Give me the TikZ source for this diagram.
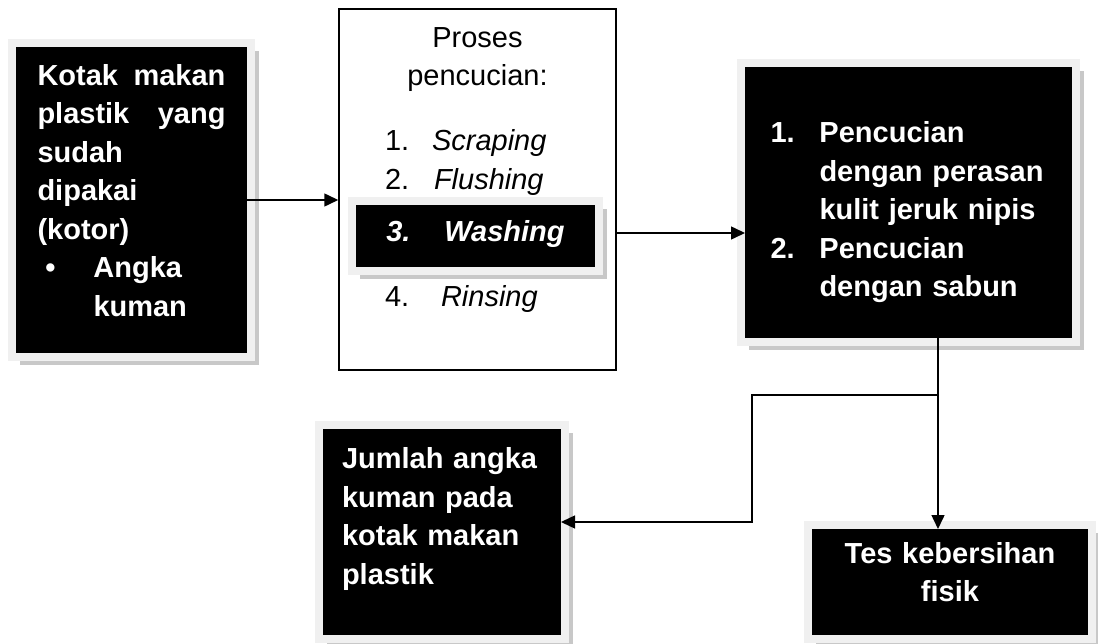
\documentclass[tikz,border=0pt]{standalone}
\usepackage{fontspec}
\setmainfont{Liberation Sans}
\usepackage{tikz}
\usetikzlibrary{calc,arrows.meta,positioning,shadows}
\usepackage{xcolor}
\definecolor{bingkai}{HTML}{F0F0F0}
\definecolor{bayangan}{HTML}{C8C8C8}
\newcommand{\butir}[3]{\makebox[185pt][l]{\makebox[#2][l]{#1}\textit{#3}}}
\tikzset{
    kotakhitam/.style={
        fill=black,
        draw=bingkai,
        line width=8pt,
        text=white,
        inner sep=0pt,
        outer sep=-4pt,
        font=\fontsize{29}{38.5}\selectfont\bfseries,
        drop shadow={shadow xshift=8pt,shadow yshift=-8pt,fill=bayangan,opacity=1}
    },
    kotakputih/.style={
        draw=black,
        line width=1.5pt,
        inner sep=0pt,
        font=\fontsize{29}{38.5}\selectfont
    },
    panah/.style={
        -{Triangle[length=14pt,width=13pt]},
        line width=1.5pt
    }
}

\begin{document}
\begin{tikzpicture}[x=1pt,y=-1pt]

    \useasboundingbox (0,0) rectangle (1098,644);

    % Kotak makan kotor
    \node[
        kotakhitam,
        minimum width=239pt,
        minimum height=314pt,
        text width=188pt,
        align=left
    ] (kotak)
        at (131.5,200)
        {Kotak\hfill makan\\ plastik\hfill yang\\ sudah\\ dipakai\\ (kotor)\\
         \makebox[56pt][l]{\hspace{8pt}\textbullet}Angka\\ \hspace*{56pt}kuman\\[-19pt]~};

    % Proses pencucian
    \node[
        kotakputih,
        minimum width=277pt,
        minimum height=361pt,
        text width=260pt,
        align=center
    ] (proses)
        at (477.5,189.5)
        {Proses\\ pencucian:\\[26.5pt]
         \butir{1.}{47pt}{Scraping}\\ \butir{2.}{49pt}{Flushing}\\[78.5pt]
         \butir{4.}{56pt}{Rinsing}\\[6.5pt]~};

    % Washing
    \node[
        kotakhitam,
        minimum width=247pt,
        minimum height=70pt,
        text height=32pt,
        text depth=20pt
    ] (washing)
        at (475.5,236)
        {\textit{\makebox[58pt][l]{3.}Washing}};

    % Pencucian
    \node[
        kotakhitam,
        minimum width=335pt,
        minimum height=279pt,
        text width=276pt,
        align=left
    ] (pencucian)
        at (908.5,202.5)
        {~\\[2.5pt]
         \makebox[49pt][l]{1.}Pencucian\\ \hspace*{49pt}dengan perasan\\
         \hspace*{49pt}kulit jeruk nipis\\
         \makebox[49pt][l]{2.}Pencucian\\ \hspace*{49pt}dengan sabun};

    % Jumlah angka kuman
    \node[
        kotakhitam,
        minimum width=246pt,
        minimum height=214pt,
        text width=200pt,
        align=left
    ] (jumlah)
        at (442,532)
        {Jumlah angka\\ kuman pada\\ kotak makan\\ plastik\\[-6.5pt]~};

    % Tes kebersihan
    \node[
        kotakhitam,
        minimum width=284pt,
        minimum height=114pt,
        text width=260pt,
        align=center
    ] (tes)
        at (950,582)
        {Tes kebersihan\\ fisik\\[-18.5pt]~};

    % Titik cabang
    \coordinate (cabang) at (938,395);
    \coordinate (belok) at (752,395);

    % Panah
    \draw[panah]
        (kotak.east) -- (kotak.east -| proses.west);

    \draw[panah]
        ($(proses.east |- washing.east)+(0,-3)$)
        -- ($(pencucian.west |- washing.east)+(0,-3)$);

    \draw[panah]
        (pencucian.south -| cabang) -- (tes.north -| cabang);

    \draw[panah]
        (cabang) -- (belok) |- ([yshift=10pt]jumlah.east);

\end{tikzpicture}
\end{document}
